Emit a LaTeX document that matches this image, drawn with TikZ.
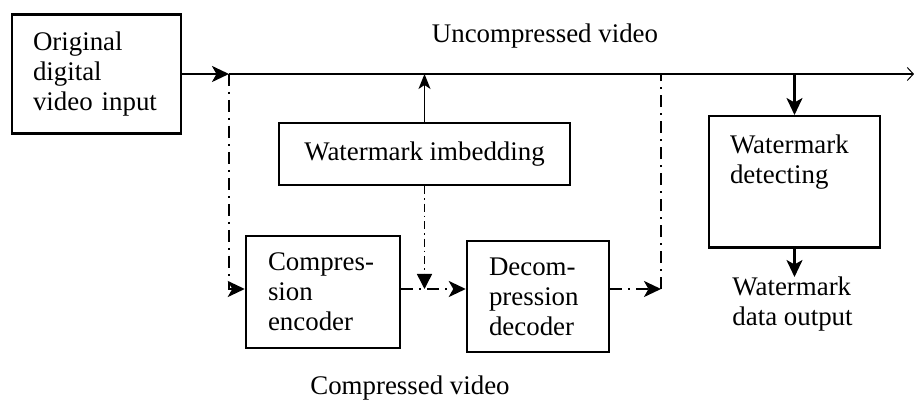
\documentclass[tikz,border=0pt]{standalone}
\usepackage{fontspec}
\setmainfont{Liberation Serif}
\usetikzlibrary{arrows.meta}

\begin{document}
\begin{tikzpicture}[x=0.02cm, y=-0.02cm,
   every node/.style={font=\fontsize{15.3}{17}\selectfont},
   block/.style={draw, line width=0.05cm, align=left},
   mainline/.style={line width=0.05cm},
   thinline/.style={line width=0.032cm},
   flow/.style={line width=0.05cm, dash pattern=on 0.24cm off 0.12cm on 0.04cm off 0.12cm},
   thinflow/.style={line width=0.03cm, dash pattern=on 0.16cm off 0.08cm on 0.03cm off 0.08cm},
   tip/.style={-{Stealth[length=0.34cm, width=0.32cm, inset=0.09cm]}},
   smalltip/.style={-{Stealth[length=0.3cm, width=0.24cm, inset=0.08cm]}}]

\useasboundingbox (0,0) rectangle (914,401);

\node[block, text width=2.54cm, inner xsep=0.42cm, minimum height=2.38cm] (orig) at (96.5,74)
   {Original\\digital\\video input};
\node[block, align=center, minimum width=5.82cm, minimum height=1.24cm] (embed) at (424.5,154)
   {Watermark imbedding};
\node[block, text width=2.2cm, inner xsep=0.44cm, minimum height=2.24cm] (comp) at (323,292)
   {Compres-\\sion\\encoder};
\node[block, text width=1.96cm, inner xsep=0.44cm, minimum height=2.22cm] (decomp) at (538,296.5)
   {Decom-\\pression\\decoder};
\node[block, anchor=north, text width=2.58cm, inner xsep=0.42cm, inner ysep=0.37cm, text depth=1.51cm] (detect) at (794.5,115)
   {Watermark\\detecting};

\node[anchor=north, align=left, inner sep=0pt] (wmout) at (792.5,277) {Watermark\\data output};
\node (uncomp) at (545,36) {Uncompressed video};
\node (compv) at (410,388) {Compressed video};

\coordinate (split) at (229,74);
\coordinate (merge) at (661,74);
\coordinate (level) at (0,289);
\coordinate (turn) at (merge |- level);
\coordinate (outend) at (914,74);

\draw[mainline, tip] (orig.east) -- (split);
\draw[mainline, -{Straight Barb[length=0.12cm, width=0.26cm, line width=0.02cm]}] (split) -- (outend);
\draw[thinline, smalltip] (embed.north) -- (embed.north |- split);
\draw[mainline, tip] (detect.north |- split) -- (detect.north);
\draw[mainline, tip] (detect.south) -- (detect.south |- wmout.north);

\draw[flow, tip] (split) -- (split |- level) -- (comp.west |- level);
\draw[flow, tip] (comp.east |- level) -- (decomp.west |- level);
\draw[thinflow, -{Triangle[length=0.3cm, width=0.3cm]}] (embed.south) -- (embed.south |- level);
\draw[flow, tip] (decomp.east |- level) -- (turn);
\draw[flow] (turn) -- (merge);

\end{tikzpicture}
\end{document}
